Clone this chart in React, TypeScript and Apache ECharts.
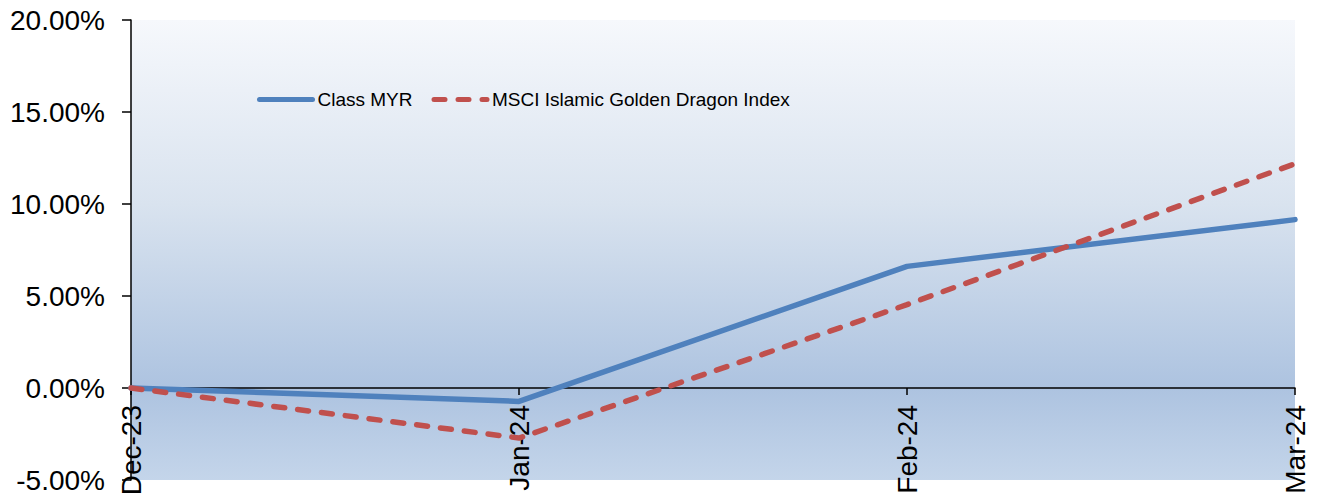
import React, { useEffect, useRef } from "react";
import * as echarts from "echarts";

const categories = ["Dec-23", "Jan-24", "Feb-24", "Mar-24"];
const classMyr = [0, -0.73, 6.61, 9.15];
const msciIndex = [0, -2.72, 4.53, 12.19];
const seriesNames = ["Class MYR", "MSCI Islamic Golden Dragon Index"];

const FONT = "'Liberation Sans', Arial, sans-serif";

// value range of the y axis; the category axis sits on the zero line
const Y_MIN = -5;
const Y_MAX = 20;
const GRID_TOP = 20;
const GRID_BOTTOM = 24;
const CHART_W = 1320;
const CHART_H = 504;

export default function App() {
  const ref = useRef<HTMLDivElement>(null);

  useEffect(() => {
    if (!ref.current) return;
    const chart = echarts.init(ref.current, undefined, { renderer: "svg" });
    const plotH = CHART_H - GRID_TOP - GRID_BOTTOM;
    const zeroOffset = (plotH * (0 - Y_MIN)) / (Y_MAX - Y_MIN);
    chart.setOption({
      animation: false,
      backgroundColor: "#ffffff",
      grid: {
        left: 131,
        right: 25,
        top: GRID_TOP,
        bottom: GRID_BOTTOM,
        outerBoundsMode: "none",
        containLabel: false,
        show: true,
        borderWidth: 0,
        backgroundColor: new echarts.graphic.LinearGradient(0, 0, 0, 1, [
          { offset: 0, color: "#f6f8fc" },
          { offset: 0.4, color: "#d9e3ef" },
          { offset: 0.8, color: "#adc3e0" },
          { offset: 1, color: "#c4d5ea" },
        ]),
      },
      legend: {
        left: 257,
        top: 90,
        padding: 0,
        itemWidth: 53,
        itemHeight: 14,
        itemGap: 19,
        itemStyle: { opacity: 0 },
        lineStyle: { width: 5 },
        textStyle: {
          fontFamily: FONT,
          fontSize: 19,
          color: "#000000",
        },
        data: seriesNames,
      },
      xAxis: {
        type: "category",
        data: categories,
        boundaryGap: false,
        position: "bottom",
        offset: -zeroOffset,
        axisLine: { onZero: false, lineStyle: { color: "#000000", width: 1.5 } },
        axisTick: { show: true, length: 7, lineStyle: { color: "#000000", width: 1.5 } },
        axisLabel: {
          rotate: 90,
          margin: 17,
          fontFamily: FONT,
          fontSize: 28,
          color: "#000000",
        },
        splitLine: { show: false },
      },
      yAxis: {
        type: "value",
        min: Y_MIN,
        max: Y_MAX,
        interval: 5,
        axisLine: { show: true, lineStyle: { color: "#000000", width: 1.5 } },
        axisTick: { show: true, length: 9, lineStyle: { color: "#000000", width: 1.5 } },
        axisLabel: {
          margin: 26,
          fontFamily: FONT,
          fontSize: 28,
          lineHeight: 30,
          color: "#000000",
          formatter: (v: number) => v.toFixed(2) + "%",
        },
        splitLine: { show: false },
      },
      series: [
        {
          name: seriesNames[0],
          type: "line",
          data: classMyr,
          symbol: "none",
          lineStyle: { color: "#4f81bd", width: 5.5, cap: "round" },
          itemStyle: { color: "#4f81bd" },
        },
        {
          name: seriesNames[1],
          type: "line",
          data: msciIndex,
          symbol: "none",
          lineStyle: { color: "#c0504d", width: 5.5, type: [11, 13], cap: "round" },
          itemStyle: { color: "#c0504d" },
        },
      ],
    });
    return () => chart.dispose();
  }, []);

  return <div ref={ref} style={{ width: CHART_W, height: CHART_H, margin: -8 }} />;
}
